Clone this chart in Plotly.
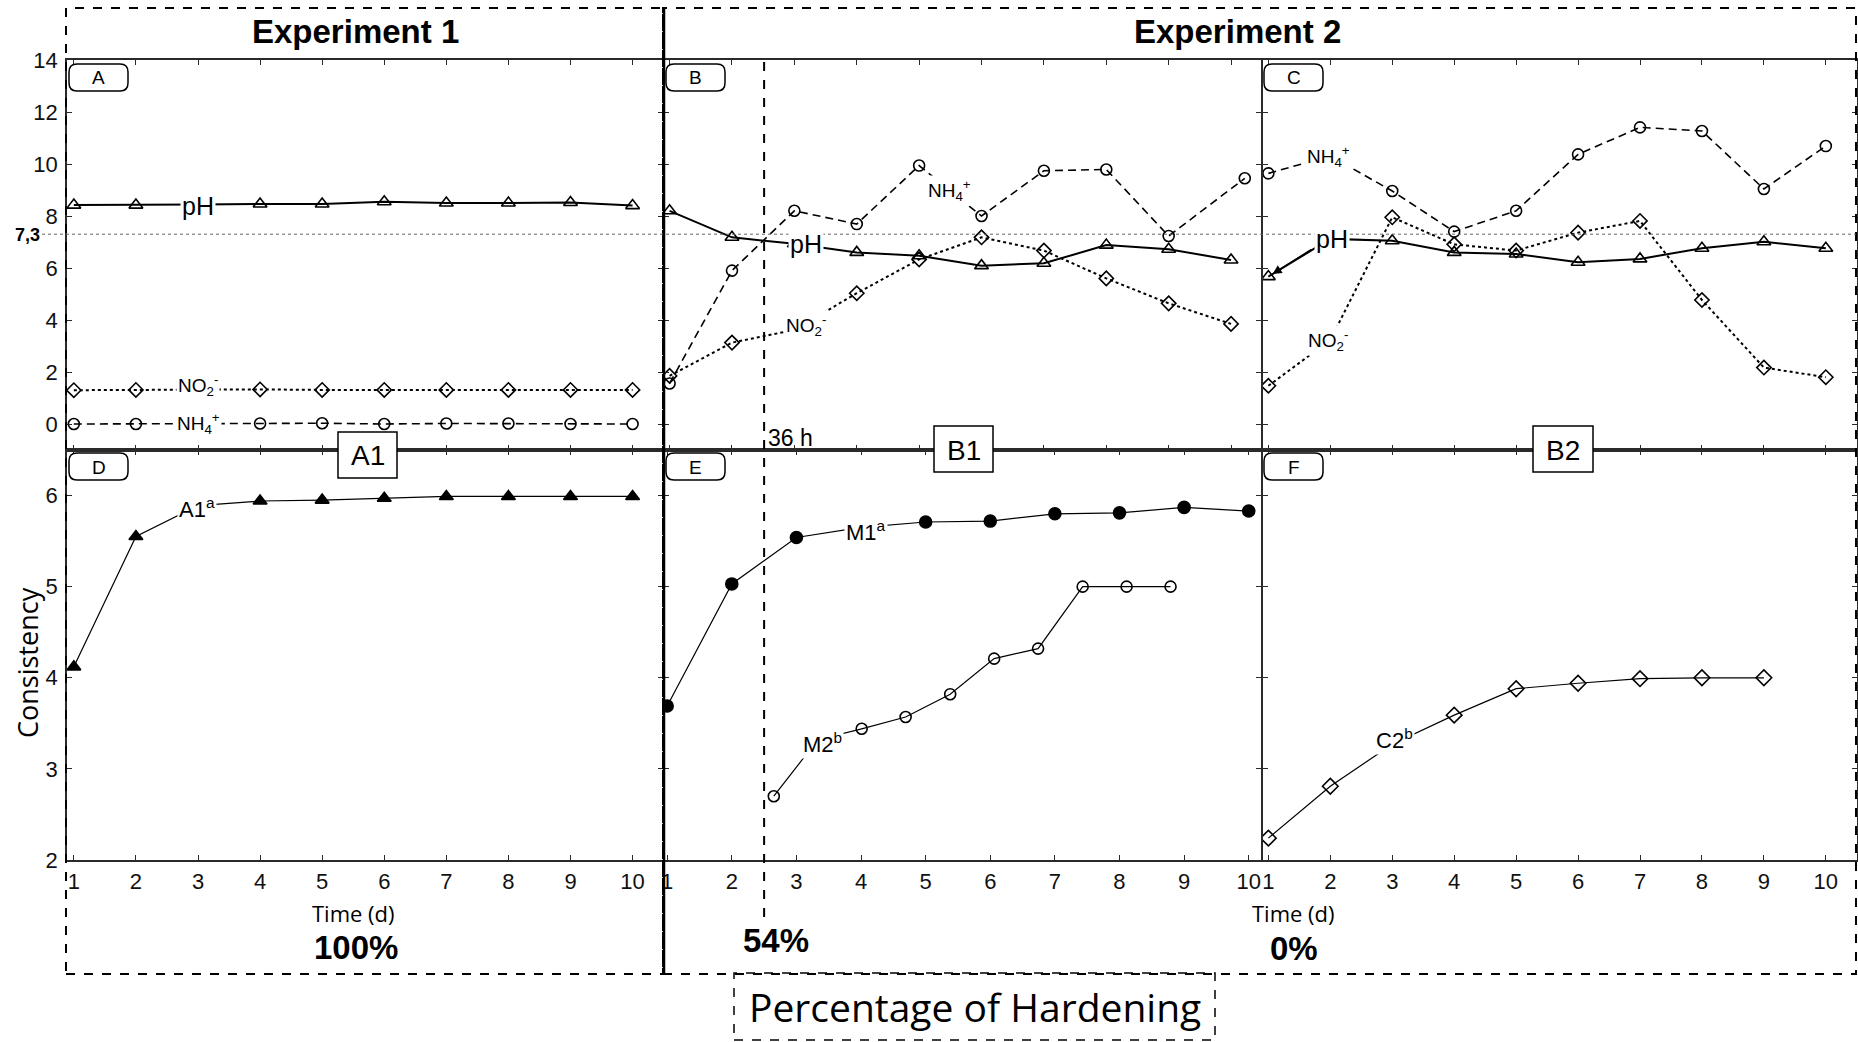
import plotly.graph_objects as go

W, H = 1858, 1042

# ---------------- data ----------------
days = [1, 2, 3, 4, 5, 6, 7, 8, 9, 10]

# Experiment 1 (panel A)
ph_A = [8.42, 8.42, 8.44, 8.46, 8.46, 8.55, 8.50, 8.50, 8.52, 8.40]
no2_A = [1.30, 1.31, 1.30, 1.33, 1.31, 1.31, 1.31, 1.31, 1.31, 1.31]
nh4_A = [0.00, 0.00, 0.00, 0.02, 0.03, 0.00, 0.02, 0.02, 0.00, 0.00]

# Experiment 2, panel B
ph_B = [8.20, 7.18, 6.93, 6.60, 6.47, 6.09, 6.18, 6.88, 6.72, 6.31]
nh4_B_days = [1, 2, 3, 4, 5, 6, 7, 8, 9, 10.22]
nh4_B = [1.56, 5.90, 8.20, 7.69, 9.94, 8.00, 9.74, 9.79, 7.23, 9.45]
no2_B = [1.85, 3.13, 3.62, 5.03, 6.33, 7.18, 6.67, 5.60, 4.64, 3.85]

# Experiment 2, panel C
ph_C = [5.67, 7.12, 7.05, 6.60, 6.54, 6.22, 6.35, 6.76, 7.01, 6.76]
nh4_C = [9.64, 10.31, 8.96, 7.40, 8.20, 10.37, 11.41, 11.27, 9.04, 10.69]
no2_C = [1.47, 3.23, 7.95, 6.91, 6.67, 7.36, 7.81, 4.77, 2.17, 1.80]

# Consistency (panels D, E, F)
a1 = [4.12, 5.55, 5.89, 5.94, 5.95, 5.97, 5.99, 5.99, 5.99, 5.99]
m1 = [3.69, 5.03, 5.54, 5.65, 5.71, 5.72, 5.80, 5.81, 5.87, 5.83]
m2_days = [2.65, 3.33, 4.01, 4.69, 5.38, 6.06, 6.74, 7.43, 8.11, 8.79]
m2 = [2.70, 3.32, 3.44, 3.57, 3.82, 4.21, 4.32, 5.00, 5.00, 5.00]
c2_days = [1, 2, 3, 4, 5, 6, 7, 8, 9]
c2 = [2.24, 2.81, 3.27, 3.59, 3.88, 3.94, 3.99, 4.00, 4.00]

ph_threshold = 7.3
hardening_time_d = 2.5  # 36 h

top_yticks = [0, 2, 4, 6, 8, 10, 12, 14]
bottom_yticks = [2, 3, 4, 5, 6]

# ---------------- helpers ----------------
def PX(px):
    return px / W

def PY(py):
    return 1 - py / H

NARROW = "Liberation Sans Narrow, Arial Narrow, Liberation Sans, Arial"
SANS = "Open Sans, Noto Sans, sans-serif"
BOLD = "Liberation Sans, Arial"

fig = go.Figure()

def add_line(x, y, xa, ya, symbol, dash, width, msize):
    fig.add_trace(go.Scatter(
        x=x, y=y, xaxis=xa, yaxis=ya, mode="lines+markers",
        line=dict(color="black", width=width, dash=dash),
        marker=dict(symbol=symbol, size=msize, color="black",
                    line=dict(color="black", width=1.6)),
        showlegend=False, hoverinfo="skip"))

DASH = "8px,5px"
# Top panels
add_line(days, nh4_A, "x", "y", "circle-open", DASH, 1.6, 11)
add_line(days, no2_A, "x", "y", "diamond-open", "dot", 2, 11)
add_line(days, ph_A, "x", "y", "triangle-up-open", "solid", 2, 12)

add_line(nh4_B_days, nh4_B, "x2", "y2", "circle-open", DASH, 1.6, 11)
add_line(days, no2_B, "x2", "y2", "diamond-open", "dot", 2, 11)
add_line(days, ph_B, "x2", "y2", "triangle-up-open", "solid", 2, 12)

add_line(days, nh4_C, "x3", "y3", "circle-open", DASH, 1.6, 11)
add_line(days, no2_C, "x3", "y3", "diamond-open", "dot", 2, 11)
add_line(days, ph_C, "x3", "y3", "triangle-up-open", "solid", 2, 12)

# Bottom panels
add_line(days, a1, "x4", "y4", "triangle-up", "solid", 1.2, 12)
add_line(days, m1, "x5", "y5", "circle", "solid", 1.2, 12)
add_line(m2_days, m2, "x5", "y5", "circle-open", "solid", 1.2, 11)
add_line(c2_days, c2, "x6", "y6", "diamond-open", "solid", 1.2, 12)

# ---------------- axes ----------------
colx = {
    "A": (67, 663, 0.89, 10.49),
    "B": (664.6, 1261, 0.92, 10.48),
    "C": (1262.8, 1856.8, 0.91, 10.5),
    "D": (67, 663, 0.89, 10.49),
    "E": (664.6, 1261, 0.96, 10.19),
    "F": (1262.8, 1856.8, 0.91, 10.5),
}
top_dom = [PY(450), PY(60)]
bot_dom = [PY(860), PY(450)]

axis_common = dict(showgrid=False, zeroline=False, showline=True, linecolor="#2a2a2a",
                   linewidth=1.5, mirror="ticks", ticks="inside", ticklen=5,
                   tickcolor="#2a2a2a", tickwidth=1, automargin=False,
                   tickfont=dict(family=NARROW, size=22, color="#111"))

names = ["A", "B", "C", "D", "E", "F"]
for i, n in enumerate(names):
    k = "" if i == 0 else str(i + 1)
    x0, x1, r0, r1 = colx[n]
    top = i < 3
    xa = dict(axis_common, domain=[PX(x0), PX(x1)], range=[r0, r1],
              anchor="y" + k, tickvals=days, showticklabels=not top,
              ticklabelstandoff=1)
    ya = dict(axis_common, domain=top_dom if top else bot_dom,
              range=[-1, 14] if top else [2, 6.5], anchor="x" + k,
              tickvals=top_yticks if top else bottom_yticks,
              showticklabels=(n in ("A", "D")), ticklabelstandoff=3)
    fig.update_layout(**{"xaxis" + k: xa, "yaxis" + k: ya})

# ---------------- shapes ----------------
shapes = []
# experiment frames
shapes.append(dict(type="rect", xref="paper", yref="paper", x0=PX(66), x1=PX(663),
                   y0=PY(974), y1=PY(8), line=dict(color="black", width=2, dash="dash")))
shapes.append(dict(type="rect", xref="paper", yref="paper", x0=PX(663), x1=PX(1856),
                   y0=PY(974), y1=PY(8), line=dict(color="black", width=2, dash="dash")))
shapes.append(dict(type="line", xref="paper", yref="paper", x0=PX(664), x1=PX(664),
                   y0=PY(974), y1=PY(8), line=dict(color="black", width=2.5)))
# percentage box
shapes.append(dict(type="rect", xref="paper", yref="paper", x0=PX(734), x1=PX(1215),
                   y0=PY(1040), y1=PY(973), line=dict(color="black", width=1.5, dash="dash")))
# pH 7.3 reference line
shapes.append(dict(type="line", xref="paper", yref="y", x0=PX(42), x1=PX(1856),
                   y0=ph_threshold, y1=ph_threshold,
                   line=dict(color="#666", width=1, dash="dot")))
# 36 h line
shapes.append(dict(type="line", xref="x5", yref="paper", x0=hardening_time_d,
                   x1=hardening_time_d, y0=PY(917), y1=PY(60),
                   line=dict(color="black", width=2, dash="dash")))

def rounded_box(x0, y0, x1, y1, r=8):
    X0, X1 = PX(x0), PX(x1)
    T, B = PY(y0), PY(y1)
    rx, ry = r / W, r / H
    p = (f"M {X0+rx},{T} L {X1-rx},{T} Q {X1},{T} {X1},{T-ry} "
         f"L {X1},{B+ry} Q {X1},{B} {X1-rx},{B} L {X0+rx},{B} "
         f"Q {X0},{B} {X0},{B+ry} L {X0},{T-ry} Q {X0},{T} {X0+rx},{T} Z")
    return dict(type="path", xref="paper", yref="paper", path=p,
                fillcolor="white", line=dict(color="black", width=1.5))

annotations = []

def text(px, py, t, family, size, bold=False, **kw):
    annotations.append(dict(xref="paper", yref="paper", x=PX(px), y=PY(py),
                            xanchor=kw.pop("xanchor", "center"), yanchor="middle",
                            text=f"<b>{t}</b>" if bold else t, showarrow=False,
                            font=dict(family=family, size=size, color="black"), **kw))

panel_boxes = {"A": (69, 64), "B": (666, 64), "C": (1264, 64),
               "D": (69, 453), "E": (666, 453), "F": (1264, 453)}
for n, (bx, by) in panel_boxes.items():
    shapes.append(rounded_box(bx, by, bx + 59, by + 27))
    text(bx + 29.5, by + 14, n, NARROW, 19)

# A1 / B1 / B2 boxes
for txt, (bx0, by0, bx1, by1) in {"A1": (338, 432, 397, 478),
                                   "B1": (934, 426, 993, 472),
                                   "B2": (1533, 426, 1593, 472)}.items():
    shapes.append(dict(type="rect", xref="paper", yref="paper", x0=PX(bx0), x1=PX(bx1),
                       y0=PY(by1), y1=PY(by0), fillcolor="white",
                       line=dict(color="black", width=1.5)))
    text((bx0 + bx1) / 2, (by0 + by1) / 2 + 1, txt, NARROW, 28)

# series labels
def label(xr, yr, x, y, t, size):
    annotations.append(dict(xref=xr, yref=yr, x=x, y=y, text=t, showarrow=False,
                            xanchor="center", yanchor="middle",
                            bgcolor="white", borderpad=1,
                            font=dict(family=NARROW, size=size, color="black")))

NH4 = "NH<sub>4</sub><sup>+</sup>"
NO2 = "NO<sub>2</sub><sup>-</sup>"
label("x", "y", 3.0, 8.40, "pH", 25)
label("x", "y", 3.0, 1.50, NO2, 19)
label("x", "y", 3.0, 0.02, NH4, 19)
label("x2", "y2", 3.19, 6.92, "pH", 25)
label("x2", "y2", 3.19, 3.80, NO2, 19)
label("x2", "y2", 5.48, 9.0, NH4, 19)
label("x3", "y3", 2.03, 7.12, "pH", 25)
label("x3", "y3", 1.97, 10.30, NH4, 19)
label("x3", "y3", 1.97, 3.22, NO2, 19)
label("x4", "y4", 2.99, 5.86, "A1<sup>a</sup>", 22)
label("x5", "y5", 4.07, 5.61, "M1<sup>a</sup>", 22)
label("x5", "y5", 3.40, 3.28, "M2<sup>b</sup>", 22)
label("x6", "y6", 3.03, 3.33, "C2<sup>b</sup>", 22)

# arrow from pH label in C to first point
annotations.append(dict(xref="x3", yref="y3", x=days[0], y=ph_C[0], axref="x3", ayref="y3",
                        ax=1.72, ay=6.75, text="", showarrow=True, arrowhead=2,
                        arrowsize=1.2, arrowwidth=1.5, arrowcolor="black", standoff=5))

# titles and texts
text(355, 32, "Experiment 1", BOLD, 33, bold=True)
text(1237, 32, "Experiment 2", BOLD, 33, bold=True)
text(27, 235, "7,3", BOLD, 18, bold=True)
text(27, 663, "Consistency", SANS, 27, textangle=-90)
text(353, 913, "Time (d)", SANS, 22)
text(1293, 913, "Time (d)", SANS, 22)
text(356, 947, "100%", BOLD, 33, bold=True)
text(776, 940, "54%", BOLD, 33, bold=True)
text(1294, 948, "0%", BOLD, 33, bold=True)
text(975, 1006, "Percentage of Hardening", SANS, 39)
text(766, 438, "36 h", NARROW, 23, xanchor="left")

fig.update_layout(width=W, height=H, margin=dict(l=0, r=0, t=0, b=0, pad=0),
                  paper_bgcolor="white", plot_bgcolor="white", showlegend=False,
                  shapes=shapes, annotations=annotations)

fig.write_html("out.html", config={"displayModeBar": False},
               post_script="document.body.style.margin='0';")
